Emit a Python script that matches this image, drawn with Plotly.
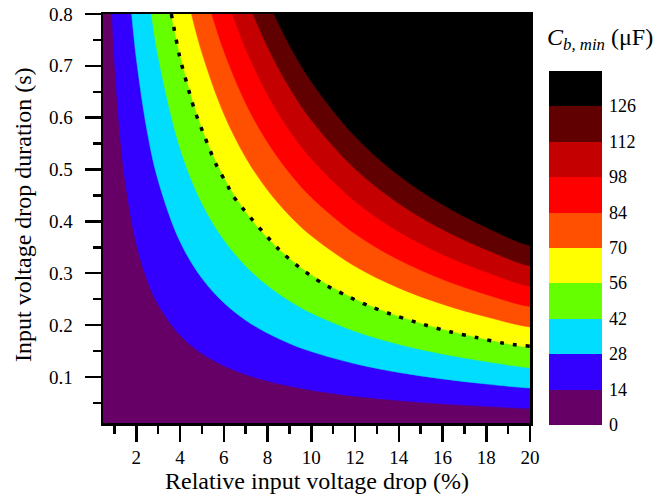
import plotly.graph_objects as go

# ---- data (boundaries of C_b,min bands) ----
levels = [0, 14, 28, 42, 56, 70, 84, 98, 112, 126, 140]
band_colors = ["#660066", "#3300FF", "#00DDFF", "#66FF00", "#FFFF00",
               "#FF4F00", "#FF0000", "#C40000", "#600000", "#000000"]
tick_labels = ["0", "14", "28", "42", "56", "70", "84", "98", "112", "126"]

b14_x = [0.888, 1, 1.25, 1.5, 2, 2.5, 3, 4, 5, 6, 7, 8, 9, 10, 12, 14, 16, 18, 20]
b14_y = [0.8, 0.7106, 0.5692, 0.4749, 0.3571, 0.2864, 0.2393, 0.1804, 0.1450, 0.1215,
         0.1047, 0.0921, 0.0823, 0.0744, 0.0627, 0.0543, 0.0480, 0.0432, 0.0393]
b28_x = [1.784, 2, 2.5, 3, 4, 5, 6, 7, 8, 9, 10, 12, 14, 16, 18, 20]
b28_y = [0.8, 0.7142, 0.5728, 0.4785, 0.3607, 0.2901, 0.2430, 0.2093, 0.1841, 0.1645,
         0.1489, 0.1254, 0.1086, 0.0961, 0.0863, 0.0786]
b42_x = [2.688, 3, 4, 5, 6, 7, 8, 9, 10, 12, 14, 16, 18, 20]
b42_y = [0.8, 0.7178, 0.5411, 0.4351, 0.3645, 0.3140, 0.2762, 0.2468, 0.2233, 0.1880,
         0.1629, 0.1441, 0.1295, 0.1178]
b56_x = [3.600, 4, 5, 6, 7, 8, 9, 10, 12, 14, 16, 18, 20]
b56_y = [0.8, 0.7215, 0.5802, 0.4860, 0.4187, 0.3682, 0.3290, 0.2977, 0.2507, 0.2172,
         0.1921, 0.1727, 0.1571]
b70_x = [4.521, 5, 6, 7, 8, 9, 10, 12, 14, 16, 18, 20]
b70_y = [0.8, 0.7252, 0.6075, 0.5234, 0.4603, 0.4113, 0.3722, 0.3134, 0.2715, 0.2402,
         0.2159, 0.1964]
b84_x = [5.452, 6, 7, 8, 9, 10, 12, 14, 16, 18, 20]
b84_y = [0.8, 0.7289, 0.6280, 0.5524, 0.4936, 0.4466, 0.3761, 0.3258, 0.2882, 0.2590, 0.2357]
b98_x = [6.391, 7, 8, 9, 10, 12, 14, 16, 18, 20]
b98_y = [0.8, 0.7327, 0.6444, 0.5758, 0.5210, 0.4388, 0.3801, 0.3362, 0.3022, 0.2750]
b112_x = [7.340, 8, 9, 10, 12, 14, 16, 18, 20]
b112_y = [0.8, 0.7365, 0.6581, 0.5954, 0.5014, 0.4344, 0.3842, 0.3454, 0.3142]
b126_x = [8.299, 9, 10, 12, 14, 16, 18, 20]
b126_y = [0.8, 0.7403, 0.6699, 0.5641, 0.4887, 0.4323, 0.3885, 0.3535]

boundaries = [(b14_x, b14_y), (b28_x, b28_y), (b42_x, b42_y), (b56_x, b56_y),
              (b70_x, b70_y), (b84_x, b84_y), (b98_x, b98_y), (b112_x, b112_y),
              (b126_x, b126_y)]

# dotted reference line
dot_x = [3.60, 3.98, 4.31, 4.66, 5.12, 5.62, 6.16, 6.44, 8.54, 9.46, 10.49, 11.59,
         12.74, 13.92, 15.13, 16.34, 17.55, 18.77, 20.0]
dot_y = [0.80, 0.718, 0.666, 0.615, 0.564, 0.512, 0.470, 0.448, 0.345, 0.311, 0.281,
         0.257, 0.235, 0.217, 0.201, 0.187, 0.176, 0.165, 0.159]

x_tickvals = [2, 4, 6, 8, 10, 12, 14, 16, 18, 20]
x_minorvals = [1, 3, 5, 7, 9, 11, 13, 15, 17, 19]
y_tickvals = [0.1, 0.2, 0.3, 0.4, 0.5, 0.6, 0.7, 0.8]
y_ticktext = ["0.1", "0.2", "0.3", "0.4", "0.5", "0.6", "0.7", "0.8"]
y_minorvals = [0.05, 0.15, 0.25, 0.35, 0.45, 0.55, 0.65, 0.75]

FONT = "Liberation Serif"
X_RANGE = [0.475, 20]
Y_RANGE = [0.011, 0.8]

fig = go.Figure()

for i, (bx, by) in enumerate(boundaries):
    color = band_colors[i + 1]
    px = list(bx) + [21.0, 21.0, bx[0]]
    py = list(by) + [by[-1], 1.2, 1.2]
    fig.add_trace(go.Scatter(
        x=px, y=py, mode="lines", fill="toself", fillcolor=color,
        line=dict(color=color, width=0.5, shape="spline", smoothing=1.0),
        hoverinfo="skip", showlegend=False))

fig.add_trace(go.Scatter(
    x=dot_x, y=dot_y, mode="lines",
    line=dict(color="black", width=3.5, dash="4px,9px", shape="spline", smoothing=0.8),
    hoverinfo="skip", showlegend=False))

# colorbar carrier
cs = []
n = len(band_colors)
for i, c in enumerate(band_colors):
    cs.append([i / n, c])
    cs.append([(i + 1) / n, c])

fig.add_trace(go.Scatter(
    x=[None], y=[None], mode="markers",
    marker=dict(color=[0], colorscale=cs, cmin=levels[0], cmax=levels[-1], showscale=True,
                colorbar=dict(
                    x=1.045, xanchor="left", xpad=0,
                    y=-0.004, yanchor="bottom", ypad=0,
                    len=354, lenmode="pixels", thickness=53,
                    outlinewidth=0,
                    tickvals=levels[:-1], ticktext=tick_labels,
                    ticks="outside", ticklen=4, tickcolor="rgba(0,0,0,0)",
                    tickfont=dict(family=FONT, size=18, color="black"))),
    hoverinfo="skip", showlegend=False))

fig.add_annotation(
    text="<i>C</i><sub><i>b, min</i></sub> (μF)",
    xref="paper", yref="paper", x=1.163, y=0.938, xanchor="center", yanchor="middle",
    showarrow=False, font=dict(family=FONT, size=24, color="black"))

fig.add_annotation(
    text="Relative input voltage drop (%)",
    xref="paper", yref="paper", x=0.5, y=-0.143, xanchor="center", yanchor="middle",
    showarrow=False, font=dict(family=FONT, size=24, color="black"))

fig.add_annotation(
    text="Input voltage drop duration (s)", textangle=-90,
    xref="paper", yref="paper", x=-0.186, y=0.51, xanchor="center", yanchor="middle",
    showarrow=False, font=dict(family=FONT, size=24, color="black"))

axis_common = dict(
    showline=True, linewidth=2.5, linecolor="black", mirror=True,
    ticks="outside", ticklen=16, tickwidth=2.5, tickcolor="black",
    showgrid=False, zeroline=False, automargin=False,
    ticklabeloverflow="allow",
    tickfont=dict(family=FONT, size=19, color="black"),
)

fig.update_layout(
    width=668, height=501,
    margin=dict(l=103, r=138, t=14, b=78, autoexpand=False),
    paper_bgcolor="white", plot_bgcolor=band_colors[0],
    font=dict(family=FONT, color="black"),
    hovermode=False,
    xaxis=dict(range=X_RANGE, tickmode="array", tickvals=x_tickvals,
               minor=dict(tickmode="array", tickvals=x_minorvals,
                          ticks="outside", ticklen=8, tickwidth=2.5, tickcolor="black"),
               **axis_common),
    yaxis=dict(range=Y_RANGE, tickmode="array", tickvals=y_tickvals, ticktext=y_ticktext,
               minor=dict(tickmode="array", tickvals=y_minorvals,
                          ticks="outside", ticklen=8, tickwidth=2.5, tickcolor="black"),
               ticklabelstandoff=8,
               **axis_common),
)

# remove the default page margin so the figure sits at the window's top-left corner
fig.write_html("out.html", config={"displayModeBar": False, "staticPlot": True},
               post_script="document.body.style.margin='0';document.body.style.overflow='hidden';")
